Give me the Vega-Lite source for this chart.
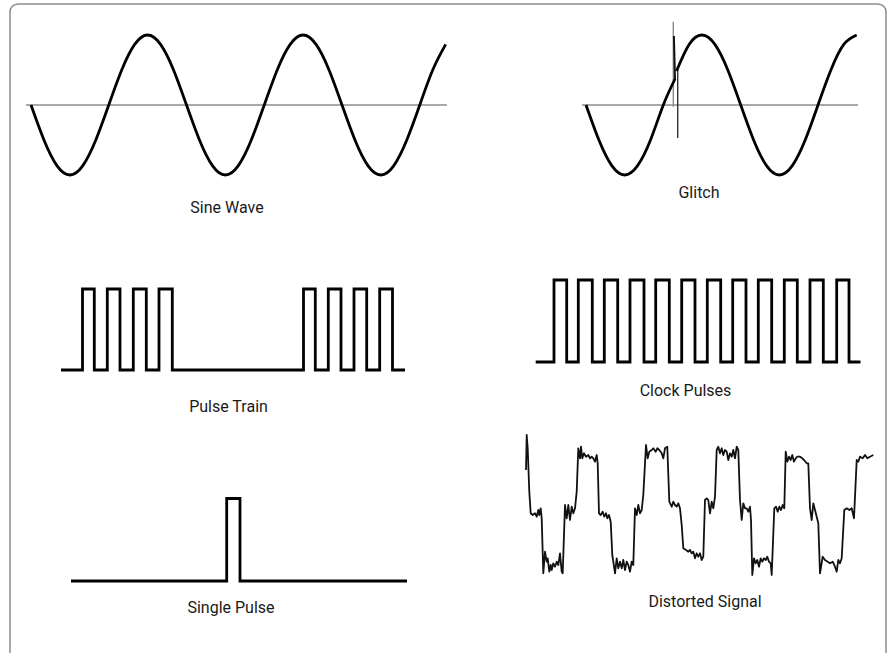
{
  "$schema": "https://vega.github.io/schema/vega-lite/v6.json",
  "width": 890,
  "height": 653,
  "padding": 0,
  "autosize": {"type": "none"},
  "background": "white",
  "config": {"view": {"stroke": null}},
  "datasets": {
    "frame": [{"x": 10, "x2": 886, "y": 4, "y2": 690}],
    "thin": [
      {"s": "ref1", "x": 26, "y": 105}, {"s": "ref1", "x": 447, "y": 105},
      {"s": "ref2", "x": 582, "y": 105}, {"s": "ref2", "x": 858, "y": 105},
      {"s": "gray", "x": 673.3, "y": 21.7}, {"s": "gray", "x": 673.3, "y": 106.7},
      {"s": "dark", "x": 677.7, "y": 68}, {"s": "dark", "x": 677.7, "y": 138},
      {"s": "spike", "x": 673.9, "y": 36}, {"s": "spike", "x": 675, "y": 80}
    ],
    "sine": [
      {"s": "a", "x": 31.0, "y": 105}, {"s": "a", "x": 43.96, "y": 140}, {"s": "a", "x": 56.92, "y": 165.6}, {"s": "a", "x": 69.87, "y": 175},
      {"s": "a", "x": 82.83, "y": 165.6}, {"s": "a", "x": 95.79, "y": 140}, {"s": "a", "x": 108.75, "y": 105}, {"s": "a", "x": 121.71, "y": 70},
      {"s": "a", "x": 134.67, "y": 44.4}, {"s": "a", "x": 147.62, "y": 35}, {"s": "a", "x": 160.58, "y": 44.4}, {"s": "a", "x": 173.54, "y": 70},
      {"s": "a", "x": 186.5, "y": 105}, {"s": "a", "x": 199.46, "y": 140}, {"s": "a", "x": 212.42, "y": 165.6}, {"s": "a", "x": 225.37, "y": 175},
      {"s": "a", "x": 238.33, "y": 165.6}, {"s": "a", "x": 251.29, "y": 140}, {"s": "a", "x": 264.25, "y": 105}, {"s": "a", "x": 277.21, "y": 70},
      {"s": "a", "x": 290.17, "y": 44.4}, {"s": "a", "x": 303.12, "y": 35}, {"s": "a", "x": 316.08, "y": 44.4}, {"s": "a", "x": 329.04, "y": 70},
      {"s": "a", "x": 342.0, "y": 105}, {"s": "a", "x": 354.96, "y": 140}, {"s": "a", "x": 367.92, "y": 165.6}, {"s": "a", "x": 380.87, "y": 175},
      {"s": "a", "x": 393.83, "y": 165.6}, {"s": "a", "x": 406.79, "y": 140}, {"s": "a", "x": 419.75, "y": 105}, {"s": "a", "x": 432.71, "y": 70},
      {"s": "a", "x": 445.67, "y": 44.4},
      {"s": "b", "x": 586, "y": 105}, {"s": "b", "x": 598.9, "y": 140}, {"s": "b", "x": 611.8, "y": 165.6}, {"s": "b", "x": 624.7, "y": 175},
      {"s": "b", "x": 637.6, "y": 165.6}, {"s": "b", "x": 650.5, "y": 140}, {"s": "b", "x": 663.3, "y": 105}, {"s": "b", "x": 675, "y": 79},
      {"s": "c", "x": 676.5, "y": 71}, {"s": "c", "x": 689.1, "y": 44.4}, {"s": "c", "x": 702, "y": 35}, {"s": "c", "x": 714.9, "y": 44.4},
      {"s": "c", "x": 727.8, "y": 70}, {"s": "c", "x": 740.7, "y": 105}, {"s": "c", "x": 753.6, "y": 140}, {"s": "c", "x": 766.5, "y": 165.6},
      {"s": "c", "x": 779.4, "y": 175}, {"s": "c", "x": 792.3, "y": 165.6}, {"s": "c", "x": 805.2, "y": 140}, {"s": "c", "x": 818, "y": 105},
      {"s": "c", "x": 830.9, "y": 70}, {"s": "c", "x": 843.8, "y": 44.4}, {"s": "c", "x": 856.7, "y": 35}
    ],
    "pulses": [
      {"s": "train", "i": 1, "x": 61, "y": 370}, {"s": "train", "i": 2, "x": 82.5, "y": 370}, {"s": "train", "i": 3, "x": 82.5, "y": 289}, {"s": "train", "i": 4, "x": 94.3, "y": 289},
      {"s": "train", "i": 5, "x": 94.3, "y": 370}, {"s": "train", "i": 6, "x": 107.3, "y": 370}, {"s": "train", "i": 7, "x": 107.3, "y": 289}, {"s": "train", "i": 8, "x": 120, "y": 289},
      {"s": "train", "i": 9, "x": 120, "y": 370}, {"s": "train", "i": 10, "x": 133.3, "y": 370}, {"s": "train", "i": 11, "x": 133.3, "y": 289}, {"s": "train", "i": 12, "x": 146.3, "y": 289},
      {"s": "train", "i": 13, "x": 146.3, "y": 370}, {"s": "train", "i": 14, "x": 159, "y": 370}, {"s": "train", "i": 15, "x": 159, "y": 289}, {"s": "train", "i": 16, "x": 172.3, "y": 289},
      {"s": "train", "i": 17, "x": 172.3, "y": 370}, {"s": "train", "i": 18, "x": 303.5, "y": 370}, {"s": "train", "i": 19, "x": 303.5, "y": 289}, {"s": "train", "i": 20, "x": 315.3, "y": 289},
      {"s": "train", "i": 21, "x": 315.3, "y": 370}, {"s": "train", "i": 22, "x": 328.3, "y": 370}, {"s": "train", "i": 23, "x": 328.3, "y": 289}, {"s": "train", "i": 24, "x": 341, "y": 289},
      {"s": "train", "i": 25, "x": 341, "y": 370}, {"s": "train", "i": 26, "x": 354, "y": 370}, {"s": "train", "i": 27, "x": 354, "y": 289}, {"s": "train", "i": 28, "x": 366.7, "y": 289},
      {"s": "train", "i": 29, "x": 366.7, "y": 370}, {"s": "train", "i": 30, "x": 379.7, "y": 370}, {"s": "train", "i": 31, "x": 379.7, "y": 289}, {"s": "train", "i": 32, "x": 392.5, "y": 289},
      {"s": "train", "i": 33, "x": 392.5, "y": 370}, {"s": "train", "i": 34, "x": 405, "y": 370},
      {"s": "clock", "i": 1, "x": 535.7, "y": 362}, {"s": "clock", "i": 2, "x": 554, "y": 362}, {"s": "clock", "i": 3, "x": 554, "y": 280}, {"s": "clock", "i": 4, "x": 566.7, "y": 280},
      {"s": "clock", "i": 5, "x": 566.7, "y": 362}, {"s": "clock", "i": 6, "x": 578.3, "y": 362}, {"s": "clock", "i": 7, "x": 578.3, "y": 280}, {"s": "clock", "i": 8, "x": 592.3, "y": 280},
      {"s": "clock", "i": 9, "x": 592.3, "y": 362}, {"s": "clock", "i": 10, "x": 604.3, "y": 362}, {"s": "clock", "i": 11, "x": 604.3, "y": 280}, {"s": "clock", "i": 12, "x": 617.7, "y": 280},
      {"s": "clock", "i": 13, "x": 617.7, "y": 362}, {"s": "clock", "i": 14, "x": 630, "y": 362}, {"s": "clock", "i": 15, "x": 630, "y": 280}, {"s": "clock", "i": 16, "x": 644, "y": 280},
      {"s": "clock", "i": 17, "x": 644, "y": 362}, {"s": "clock", "i": 18, "x": 655.7, "y": 362}, {"s": "clock", "i": 19, "x": 655.7, "y": 280}, {"s": "clock", "i": 20, "x": 669.3, "y": 280},
      {"s": "clock", "i": 21, "x": 669.3, "y": 362}, {"s": "clock", "i": 22, "x": 681.7, "y": 362}, {"s": "clock", "i": 23, "x": 681.7, "y": 280}, {"s": "clock", "i": 24, "x": 695, "y": 280},
      {"s": "clock", "i": 25, "x": 695, "y": 362}, {"s": "clock", "i": 26, "x": 707.3, "y": 362}, {"s": "clock", "i": 27, "x": 707.3, "y": 280}, {"s": "clock", "i": 28, "x": 720.7, "y": 280},
      {"s": "clock", "i": 29, "x": 720.7, "y": 362}, {"s": "clock", "i": 30, "x": 732.7, "y": 362}, {"s": "clock", "i": 31, "x": 732.7, "y": 280}, {"s": "clock", "i": 32, "x": 746, "y": 280},
      {"s": "clock", "i": 33, "x": 746, "y": 362}, {"s": "clock", "i": 34, "x": 758.3, "y": 362}, {"s": "clock", "i": 35, "x": 758.3, "y": 280}, {"s": "clock", "i": 36, "x": 771.7, "y": 280},
      {"s": "clock", "i": 37, "x": 771.7, "y": 362}, {"s": "clock", "i": 38, "x": 784.3, "y": 362}, {"s": "clock", "i": 39, "x": 784.3, "y": 280}, {"s": "clock", "i": 40, "x": 797.3, "y": 280},
      {"s": "clock", "i": 41, "x": 797.3, "y": 362}, {"s": "clock", "i": 42, "x": 810, "y": 362}, {"s": "clock", "i": 43, "x": 810, "y": 280}, {"s": "clock", "i": 44, "x": 823.3, "y": 280},
      {"s": "clock", "i": 45, "x": 823.3, "y": 362}, {"s": "clock", "i": 46, "x": 836.7, "y": 362}, {"s": "clock", "i": 47, "x": 836.7, "y": 280}, {"s": "clock", "i": 48, "x": 849, "y": 280},
      {"s": "clock", "i": 49, "x": 849, "y": 362}, {"s": "clock", "i": 50, "x": 860.5, "y": 362},
      {"s": "single", "i": 1, "x": 71, "y": 581}, {"s": "single", "i": 2, "x": 226.7, "y": 581}, {"s": "single", "i": 3, "x": 226.7, "y": 498.5},
      {"s": "single", "i": 4, "x": 240, "y": 498.5}, {"s": "single", "i": 5, "x": 240, "y": 581}, {"s": "single", "i": 6, "x": 407, "y": 581}
    ],
    "distorted": [
      {"x": 526, "y": 470}, {"x": 526.7, "y": 435}, {"x": 527.7, "y": 448.3}, {"x": 529.3, "y": 491.7}, {"x": 530.7, "y": 513.3},
      {"x": 532.7, "y": 515}, {"x": 535, "y": 513.3}, {"x": 536.7, "y": 516.7}, {"x": 538.3, "y": 510}, {"x": 539.3, "y": 515},
      {"x": 540.7, "y": 508.3}, {"x": 541.7, "y": 518.3}, {"x": 543.3, "y": 573.3}, {"x": 545, "y": 551.7}, {"x": 546.7, "y": 561.7},
      {"x": 547.7, "y": 558.3}, {"x": 549.3, "y": 571.7}, {"x": 550.7, "y": 565}, {"x": 551.7, "y": 570}, {"x": 553.3, "y": 563.3},
      {"x": 555, "y": 566.7}, {"x": 556.7, "y": 561.7}, {"x": 558.3, "y": 565}, {"x": 560, "y": 553.3}, {"x": 561.7, "y": 571.7},
      {"x": 562.7, "y": 573.3}, {"x": 565, "y": 505}, {"x": 566.7, "y": 518.3}, {"x": 568.3, "y": 505}, {"x": 570, "y": 520},
      {"x": 571.7, "y": 506.7}, {"x": 573.3, "y": 513.3}, {"x": 575, "y": 508.3}, {"x": 576.7, "y": 491.7}, {"x": 578.3, "y": 448.3},
      {"x": 580, "y": 458.3}, {"x": 581, "y": 446.7}, {"x": 582.3, "y": 458.3}, {"x": 584, "y": 453.3}, {"x": 586, "y": 456.7},
      {"x": 588.3, "y": 455}, {"x": 590, "y": 458.3}, {"x": 591.7, "y": 456.7}, {"x": 593.3, "y": 458.3}, {"x": 595, "y": 461.7},
      {"x": 596.7, "y": 455}, {"x": 597.7, "y": 463.3}, {"x": 599, "y": 513.3}, {"x": 600.7, "y": 515}, {"x": 602.7, "y": 511.7},
      {"x": 604.3, "y": 516.7}, {"x": 606, "y": 513.3}, {"x": 607.3, "y": 518.3}, {"x": 609, "y": 515}, {"x": 610.7, "y": 521.7},
      {"x": 612.3, "y": 555}, {"x": 613.3, "y": 561.7}, {"x": 615, "y": 573.3}, {"x": 616.7, "y": 558.3}, {"x": 618.3, "y": 568.3},
      {"x": 620, "y": 561.7}, {"x": 621.7, "y": 568.3}, {"x": 623.3, "y": 560}, {"x": 625, "y": 570}, {"x": 626.7, "y": 561.7},
      {"x": 628.3, "y": 565}, {"x": 630, "y": 571.7}, {"x": 631.7, "y": 561.7}, {"x": 633.3, "y": 565}, {"x": 635, "y": 508.3},
      {"x": 636.7, "y": 515}, {"x": 638.3, "y": 505}, {"x": 640, "y": 513.3}, {"x": 641.7, "y": 510}, {"x": 643.3, "y": 495},
      {"x": 646, "y": 445}, {"x": 647.7, "y": 458.3}, {"x": 649.3, "y": 451.7}, {"x": 651.7, "y": 450}, {"x": 653.3, "y": 448.3},
      {"x": 655.7, "y": 451.7}, {"x": 657.3, "y": 448.3}, {"x": 659.3, "y": 450}, {"x": 661.7, "y": 453.3}, {"x": 663.3, "y": 458.3},
      {"x": 665, "y": 448.3}, {"x": 667.3, "y": 446.7}, {"x": 669.3, "y": 501.7}, {"x": 671.7, "y": 506.7}, {"x": 673.3, "y": 501.7},
      {"x": 675, "y": 505}, {"x": 676.7, "y": 506.7}, {"x": 678.3, "y": 503.3}, {"x": 680, "y": 508.3}, {"x": 681.7, "y": 525},
      {"x": 683.3, "y": 548.3}, {"x": 686, "y": 550}, {"x": 688.3, "y": 551.7}, {"x": 690, "y": 550}, {"x": 691.7, "y": 553.3},
      {"x": 693.3, "y": 551.7}, {"x": 695, "y": 558.3}, {"x": 696.7, "y": 553.3}, {"x": 698.3, "y": 556.7}, {"x": 700, "y": 553.3},
      {"x": 701.7, "y": 560}, {"x": 703.3, "y": 556.7}, {"x": 705, "y": 500}, {"x": 706.7, "y": 498.3}, {"x": 708.3, "y": 500},
      {"x": 710, "y": 513.3}, {"x": 711.7, "y": 501.7}, {"x": 713.3, "y": 508.3}, {"x": 715, "y": 496.7}, {"x": 716.7, "y": 450},
      {"x": 718.3, "y": 446.7}, {"x": 720, "y": 453.3}, {"x": 721.7, "y": 448.3}, {"x": 723.3, "y": 455}, {"x": 725, "y": 450},
      {"x": 726.7, "y": 451.7}, {"x": 728.3, "y": 460}, {"x": 730, "y": 453.3}, {"x": 731.7, "y": 456.7}, {"x": 733.3, "y": 450},
      {"x": 735, "y": 458.3}, {"x": 736.7, "y": 446.7}, {"x": 738.3, "y": 450}, {"x": 740, "y": 500}, {"x": 741.7, "y": 520},
      {"x": 743.3, "y": 503.3}, {"x": 745, "y": 508.3}, {"x": 746.7, "y": 508.3}, {"x": 748.3, "y": 511.7}, {"x": 750, "y": 506.7},
      {"x": 751, "y": 520}, {"x": 752.3, "y": 575}, {"x": 754, "y": 558.3}, {"x": 755.7, "y": 563.3}, {"x": 757.3, "y": 560},
      {"x": 759, "y": 566.7}, {"x": 760.7, "y": 558.3}, {"x": 762.3, "y": 561.7}, {"x": 764, "y": 558.3}, {"x": 765.7, "y": 560},
      {"x": 767.3, "y": 556.7}, {"x": 769, "y": 561.7}, {"x": 770.7, "y": 563.3}, {"x": 771.7, "y": 575}, {"x": 774.3, "y": 508.3},
      {"x": 776, "y": 506.7}, {"x": 777.7, "y": 511.7}, {"x": 779.3, "y": 506.7}, {"x": 781, "y": 510}, {"x": 782.7, "y": 505},
      {"x": 784.3, "y": 508.3}, {"x": 785.7, "y": 451.7}, {"x": 787.3, "y": 461.7}, {"x": 789, "y": 456.7}, {"x": 790.7, "y": 460},
      {"x": 792.3, "y": 455}, {"x": 794, "y": 461.7}, {"x": 795.7, "y": 458.3}, {"x": 797.3, "y": 456.7}, {"x": 800, "y": 456.7},
      {"x": 802.3, "y": 458.3}, {"x": 804, "y": 460}, {"x": 806.7, "y": 463.3}, {"x": 808.3, "y": 463.3}, {"x": 810, "y": 508.3},
      {"x": 811.7, "y": 520}, {"x": 813.3, "y": 503.3}, {"x": 815, "y": 510}, {"x": 816.7, "y": 516.7}, {"x": 818.3, "y": 523.3},
      {"x": 820, "y": 573.3}, {"x": 822.7, "y": 556.7}, {"x": 825, "y": 560}, {"x": 827.7, "y": 561.7}, {"x": 830, "y": 563.3},
      {"x": 832.7, "y": 561.7}, {"x": 835, "y": 566.7}, {"x": 836.7, "y": 571.7}, {"x": 838.3, "y": 560}, {"x": 840, "y": 563.3},
      {"x": 841.7, "y": 558.3}, {"x": 844.3, "y": 510}, {"x": 846.7, "y": 508.3}, {"x": 849.3, "y": 510}, {"x": 851.7, "y": 508.3},
      {"x": 854, "y": 518.3}, {"x": 856.7, "y": 460}, {"x": 858.3, "y": 461.7}, {"x": 860, "y": 456.7}, {"x": 862.7, "y": 458.3},
      {"x": 865, "y": 455}, {"x": 867.3, "y": 458.3}, {"x": 870, "y": 456.7}, {"x": 873.3, "y": 455}
    ],
    "labels": [
      {"label": "Sine Wave", "x": 227, "y": 213},
      {"label": "Glitch", "x": 699, "y": 198},
      {"label": "Pulse Train", "x": 228.5, "y": 412},
      {"label": "Clock Pulses", "x": 685.5, "y": 396},
      {"label": "Single Pulse", "x": 231, "y": 613},
      {"label": "Distorted Signal", "x": 705, "y": 607}
    ]
  },
  "encoding": {
    "x": {"field": "x", "type": "quantitative", "scale": {"domain": [0, 890], "nice": false, "zero": false}, "axis": null},
    "y": {"field": "y", "type": "quantitative", "scale": {"domain": [0, 653], "reverse": true, "nice": false, "zero": false}, "axis": null}
  },
  "layer": [
    {
      "data": {"name": "frame"},
      "mark": {"type": "rect", "filled": false, "stroke": "#8c8c8c", "strokeWidth": 1.5, "cornerRadius": 8, "clip": true},
      "encoding": {
        "x2": {"field": "x2"},
        "y2": {"field": "y2"}
      }
    },
    {
      "data": {"name": "thin"},
      "transform": [{"filter": "datum.s === 'ref1' || datum.s === 'ref2'"}],
      "mark": {"type": "line", "stroke": "#555555", "strokeWidth": 1.1},
      "encoding": {"detail": {"field": "s"}}
    },
    {
      "data": {"name": "thin"},
      "transform": [{"filter": "datum.s === 'gray'"}],
      "mark": {"type": "line", "stroke": "#8a8a8a", "strokeWidth": 1.4},
      "encoding": {"detail": {"field": "s"}}
    },
    {
      "data": {"name": "thin"},
      "transform": [{"filter": "datum.s === 'dark'"}],
      "mark": {"type": "line", "stroke": "#333333", "strokeWidth": 1.4},
      "encoding": {"detail": {"field": "s"}}
    },
    {
      "data": {"name": "thin"},
      "transform": [{"filter": "datum.s === 'spike'"}],
      "mark": {"type": "line", "stroke": "#111111", "strokeWidth": 2},
      "encoding": {"detail": {"field": "s"}}
    },
    {
      "data": {"name": "sine"},
      "mark": {"type": "line", "stroke": "#000000", "strokeWidth": 2.8, "interpolate": "natural", "strokeCap": "butt"},
      "encoding": {"detail": {"field": "s"}}
    },
    {
      "data": {"name": "pulses"},
      "mark": {"type": "line", "stroke": "#000000", "strokeWidth": 2.8, "strokeJoin": "miter", "strokeCap": "butt"},
      "encoding": {"detail": {"field": "s"}, "order": {"field": "i", "type": "quantitative"}}
    },
    {
      "data": {"name": "distorted"},
      "mark": {"type": "line", "stroke": "#111111", "strokeWidth": 1.8, "strokeJoin": "round"},
      "encoding": {}
    },
    {
      "data": {"name": "labels"},
      "mark": {"type": "text", "font": "Roboto", "fontSize": 16, "fill": "#1a1a1a", "align": "center", "baseline": "alphabetic"},
      "encoding": {"text": {"field": "label"}}
    }
  ]
}
